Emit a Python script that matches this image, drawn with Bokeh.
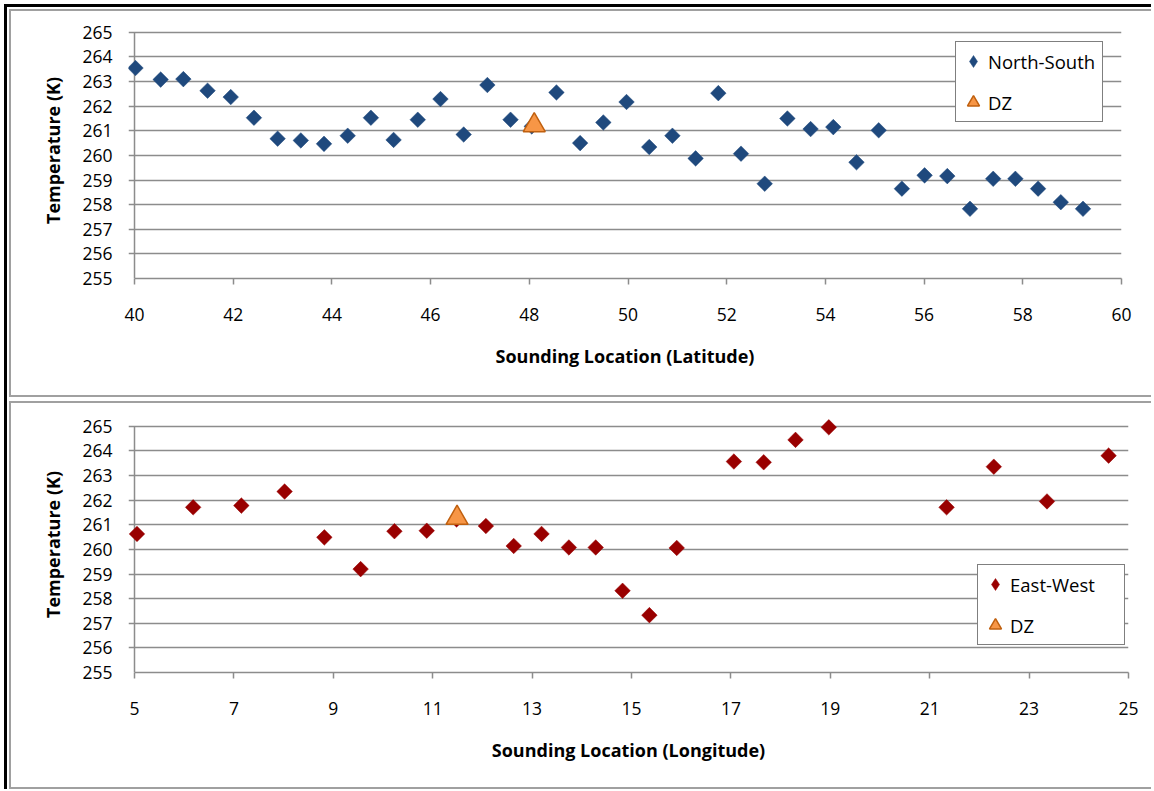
import numpy as np
from bokeh.plotting import figure
from bokeh.layouts import column
from bokeh.models import Range1d, FixedTicker, Legend, LegendItem
from bokeh.embed import file_html
from bokeh.resources import INLINE

# ---------------- data ----------------
ns_lat = [40.02, 40.53, 40.99, 41.48, 41.95, 42.42, 42.90, 43.37, 43.84, 44.32,
          44.79, 45.25, 45.74, 46.20, 46.67, 47.15, 47.62, 48.05, 48.55, 49.03,
          49.50, 49.97, 50.43, 50.90, 51.37, 51.83, 52.29, 52.77, 53.23, 53.70,
          54.16, 54.63, 55.08, 55.55, 56.01, 56.47, 56.93, 57.40, 57.85, 58.31,
          58.77, 59.22]
ns_temp = [263.55, 263.08, 263.10, 262.63, 262.37, 261.53, 260.68, 260.61, 260.47, 260.80,
           261.53, 260.63, 261.45, 262.29, 260.85, 262.86, 261.45, 261.18, 262.56, 260.50,
           261.34, 262.17, 260.34, 260.80, 259.88, 262.53, 260.07, 258.85, 261.50, 261.07,
           261.15, 259.72, 261.02, 258.65, 259.19, 259.16, 257.83, 259.05, 259.05, 258.65,
           258.10, 257.83]
dz_lat = [48.10]
dz_lat_temp = [261.22]

ew_lon = [5.05, 6.18, 7.15, 8.02, 8.82, 9.55, 10.23, 10.88, 11.48, 12.07,
          12.63, 13.19, 13.74, 14.28, 14.82, 15.36, 15.91, 17.06, 17.66, 18.30,
          18.97, 21.34, 22.29, 23.36, 24.60]
ew_temp = [260.63, 261.71, 261.78, 262.35, 260.49, 259.20, 260.74, 260.76, 261.22, 260.95,
           260.14, 260.63, 260.08, 260.08, 258.32, 257.33, 260.06, 263.57, 263.54, 264.45,
           264.96, 261.71, 263.36, 261.95, 263.81]
dz_lon = [11.49]
dz_lon_temp = [261.28]

y_ticks = [255, 256, 257, 258, 259, 260, 261, 262, 263, 264, 265]
lat_ticks = [40, 42, 44, 46, 48, 50, 52, 54, 56, 58, 60]
lon_ticks = [5, 7, 9, 11, 13, 15, 17, 19, 21, 23, 25]

FONT = "Open Sans"
GRID = "#8c8c8c"
FIG_W = 1140


def make_fig(xs, ys, dzx, dzy, xr, pad, xticks, xlabel, color, name, height,
             b_left, b_top, b_bottom, b_right, legend_loc):
    p = figure(width=FIG_W, height=height, output_backend="svg", toolbar_location=None,
               x_range=Range1d(xr[0] - pad, xr[1]), y_range=Range1d(255, 265.4),
               min_border_left=b_left, min_border_right=b_right,
               min_border_top=b_top, min_border_bottom=b_bottom)
    p.outline_line_color = None
    p.background_fill_color = "white"
    p.border_fill_color = "white"

    p.xgrid.visible = False
    p.ygrid.ticker = FixedTicker(ticks=y_ticks)
    p.ygrid.grid_line_color = GRID
    p.ygrid.grid_line_width = 1.5

    p.xaxis.ticker = FixedTicker(ticks=xticks)
    p.xaxis.bounds = xr
    p.yaxis.ticker = FixedTicker(ticks=y_ticks)
    for ax in (p.xaxis[0], p.yaxis[0]):
        ax.axis_line_color = GRID
        ax.axis_line_width = 1.5
        ax.major_tick_line_color = GRID
        ax.major_tick_line_width = 1.5
        ax.major_tick_out = 6
        ax.major_tick_in = 0
        ax.minor_tick_line_color = None
        ax.major_label_text_font = FONT
        ax.major_label_text_font_size = "17.5px"
        ax.major_label_text_color = "black"
        ax.axis_label_text_font = FONT
        ax.axis_label_text_font_size = "18px"
        ax.axis_label_text_font_style = "bold"
        ax.axis_label_text_color = "black"
    # y axis sits 6px left of x=start; grid lines sticking out act as its ticks
    p.yaxis.axis_line_color = None
    p.yaxis.major_tick_line_color = None
    p.yaxis.major_tick_out = 0
    p.xaxis.major_label_standoff = 23
    p.xaxis.axis_label_standoff = 20
    p.yaxis.major_label_standoff = 16
    p.yaxis.axis_label_standoff = 14
    p.xaxis.axis_label = xlabel
    p.yaxis.axis_label = "Temperature (K)"

    # vertical axis line at x = start of the axis
    p.segment(x0=[xr[0]], y0=[y_ticks[0]], x1=[xr[0]], y1=[y_ticks[-1]],
              line_color=GRID, line_width=1.5)

    # legend glyph (legend markers are drawn unrotated); hidden beneath the rotated squares
    r_leg = p.scatter(xs, ys, marker="diamond", size=13,
                      fill_color=color, line_color=color, line_width=0.5)
    p.scatter(xs, ys, marker="square", size=11, angle=np.pi / 4,
              fill_color=color, line_color=color, line_width=0.5)
    r2 = p.scatter(dzx, dzy, marker="triangle", size=22,
                   fill_color="#F79646", line_color="#C0600F", line_width=1.5)

    leg = Legend(items=[LegendItem(label=name, renderers=[r_leg]),
                        LegendItem(label="DZ", renderers=[r2])],
                 location=legend_loc, orientation="vertical")
    leg.border_line_color = "black"
    leg.border_line_width = 1
    leg.background_fill_color = "white"
    leg.background_fill_alpha = 1
    leg.label_text_font = FONT
    leg.label_text_font_size = "18.5px"
    leg.label_text_color = "black"
    leg.glyph_width = 30
    leg.glyph_height = 34
    leg.label_height = 34
    leg.label_width = 112
    leg.spacing = 7
    leg.padding = 2
    leg.margin = 0
    leg.label_standoff = 0
    p.add_layout(leg, "center")
    return p


# frame left = 134 - 6px (grid lines stick out left of the axis like ticks)
p1 = make_fig(ns_lat, ns_temp, dz_lat, dz_lat_temp, (40, 60), 6 / 49.25, lat_ticks,
              "Sounding Location (Latitude)", "#1F497D", "North-South", 384,
              117, 11, 117, 30, (827, 156))
p2 = make_fig(ew_lon, ew_temp, dz_lon, dz_lon_temp, (5, 25), 6 / 49.7, lon_ticks,
              "Sounding Location (Longitude)", "#990000", "East-West", 384,
              117, 13, 115, 23, (849, 27))

gray = "2px solid #a0a0a0"
w1 = column(p1, styles={"border-left": gray, "border-top": gray, "border-bottom": gray,
                        "margin-left": "2px", "margin-top": "2px"})
w2 = column(p2, styles={"border-left": gray, "border-top": gray, "border-bottom": gray,
                        "margin-left": "2px", "margin-top": "4px"})

layout = column(w1, w2, spacing=0,
                styles={"border-left": "3px solid black", "border-top": "3px solid black",
                        "margin-left": "4px", "margin-top": "4px"})

open("out.html", "w").write(file_html(layout, INLINE))
